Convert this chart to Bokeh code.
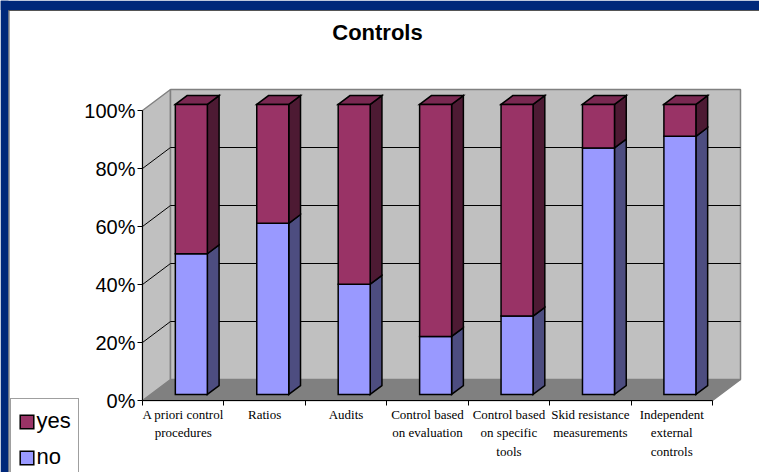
from bokeh.plotting import figure
from bokeh.models import (Range1d, FixedTicker, LinearAxis, Legend, LegendItem,
                          Label, BoxAnnotation, ColumnDataSource)
from bokeh.embed import file_html
from bokeh.resources import INLINE

# ---------------- data ----------------
categories = ["A priori control\nprocedures", "Ratios", "Audits",
              "Control based\non evaluation", "Control based\non specific\ntools",
              "Skid resistance\nmeasurements", "Independent\nexternal\ncontrols"]
no_pct = [48.5, 59, 38, 20, 27, 85, 89]
yes_pct = [51.5, 41, 62, 80, 73, 15, 11]
y_ticks = [0, 20, 40, 60, 80, 100]
title_text = "Controls"

# ---------------- layout constants (pixels) ----------------
W, H = 759, 472
X0_PX, Y0_PX = 142, 400                      # where (0, 0%) of the front plane sits
n = len(categories)
PX_PER_CAT = 570 / n
PX_PER_PCT = 290 / 100
DEPTH_X, DEPTH_Y = 28, 21                    # 3-D depth offset in px
ddx = DEPTH_X / PX_PER_CAT
ddy = DEPTH_Y / PX_PER_PCT
F_FRONT, F_DEPTH = 0.29, 0.42                # bar front position / bar depth (fraction of wall depth)
BAR_HALF = 16 / PX_PER_CAT

NO_FRONT, NO_SIDE = "#9999FF", "#4D4D80"
YES_FRONT, YES_SIDE, YES_TOP = "#993366", "#4D1A33", "#7A2952"
WALL, FLOOR, EDGE = "#C0C0C0", "#808080", "#808080"
NAVY = "#00287A"

p = figure(width=W, height=H,
           x_range=Range1d(-X0_PX / PX_PER_CAT, (W - X0_PX) / PX_PER_CAT),
           y_range=Range1d(-(H - Y0_PX) / PX_PER_PCT, Y0_PX / PX_PER_PCT),
           output_backend="svg", toolbar_location=None,
           x_axis_type=None, y_axis_type=None, min_border=0)
p.background_fill_color = "white"
p.border_fill_color = "white"
p.outline_line_color = None
p.xgrid.visible = False
p.ygrid.visible = False

# ---------------- walls ----------------
p.patch([0, ddx, n + ddx, n], [0, ddy, ddy, 0], fill_color=FLOOR, line_color=EDGE, line_width=1.5)
p.patch([0, ddx, ddx, 0], [0, ddy, 100 + ddy, 100], fill_color=WALL, line_color=EDGE, line_width=1.5)
p.quad(left=[ddx], right=[n + ddx], bottom=[ddy], top=[100 + ddy],
       fill_color=WALL, line_color=EDGE, line_width=1.5)
grid_vals = [t for t in y_ticks if 0 < t < 100]
p.segment(x0=[ddx] * len(grid_vals), x1=[n + ddx] * len(grid_vals),
          y0=[t + ddy for t in grid_vals], y1=[t + ddy for t in grid_vals],
          line_color="black", line_width=1)
p.segment(x0=[0] * len(grid_vals), x1=[ddx] * len(grid_vals),
          y0=grid_vals, y1=[t + ddy for t in grid_vals],
          line_color="black", line_width=1)

# ---------------- bars ----------------
fx, fy = F_FRONT * ddx, F_FRONT * ddy
bx, by = F_DEPTH * ddx, F_DEPTH * ddy
x0 = [i + 0.5 - BAR_HALF + fx for i in range(n)]
x1 = [i + 0.5 + BAR_HALF + fx for i in range(n)]
no_bot = [fy] * n
no_top = [fy + v for v in no_pct]
yes_bot = no_top
yes_top = [a + b for a, b in zip(no_top, yes_pct)]

def side(bot, top):
    xs = [[r, r + bx, r + bx, r] for r in x1]
    ys = [[b, b + by, t + by, t] for b, t in zip(bot, top)]
    return xs, ys

sx, sy = side(no_bot, no_top)
p.patches(sx, sy, fill_color=NO_SIDE, line_color="black", line_width=1.5, line_join="miter")
sx, sy = side(yes_bot, yes_top)
p.patches(sx, sy, fill_color=YES_SIDE, line_color="black", line_width=1.5, line_join="miter")
tx = [[l, l + bx, r + bx, r] for l, r in zip(x0, x1)]
ty = [[t, t + by, t + by, t] for t in yes_top]
p.patches(tx, ty, fill_color=YES_TOP, line_color="black", line_width=1.5, line_join="miter")

no_src = ColumnDataSource(dict(left=x0, right=x1, bottom=no_bot, top=no_top))
yes_src = ColumnDataSource(dict(left=x0, right=x1, bottom=yes_bot, top=yes_top))
no_r = p.quad(left="left", right="right", bottom="bottom", top="top", source=no_src,
              fill_color=NO_FRONT, line_color="black", line_width=1.5, line_join="miter")
yes_r = p.quad(left="left", right="right", bottom="bottom", top="top", source=yes_src,
               fill_color=YES_FRONT, line_color="black", line_width=1.5, line_join="miter")

# ---------------- axes ----------------
yaxis = LinearAxis(ticker=FixedTicker(ticks=y_ticks, minor_ticks=[]), bounds=(0, 100),
                   fixed_location=0,
                   major_label_overrides={t: f"{t}%" for t in y_ticks})
yaxis.major_label_text_font = "Liberation Sans"
yaxis.major_label_text_font_size = "20px"
yaxis.major_label_text_color = "black"
yaxis.major_tick_out = 5
yaxis.major_tick_in = 0
yaxis.minor_tick_out = 0
yaxis.minor_tick_in = 0
yaxis.major_label_standoff = 2
yaxis.axis_line_color = "black"
yaxis.major_tick_line_color = "black"
p.add_layout(yaxis, "left")

centers = [i + 0.5 for i in range(n)]
xaxis = LinearAxis(ticker=FixedTicker(ticks=centers, minor_ticks=list(range(n + 1))),
                   bounds=(0, n), fixed_location=0,
                   major_label_overrides={c: lab for c, lab in zip(centers, categories)})
xaxis.major_label_text_font = "Liberation Serif"
xaxis.major_label_text_font_size = "13px"
xaxis.major_label_text_line_height = 1.25
xaxis.major_label_text_color = "black"
xaxis.major_tick_out = 0
xaxis.major_tick_in = 0
xaxis.minor_tick_out = 5
xaxis.minor_tick_in = 0
xaxis.minor_tick_line_color = "black"
xaxis.major_label_standoff = 1
xaxis.axis_line_color = "black"
p.add_layout(xaxis, "below")

# ---------------- title ----------------
p.add_layout(Label(x=(377 - X0_PX) / PX_PER_CAT, y=(Y0_PX - 32) / PX_PER_PCT, text=title_text,
                   text_font="Liberation Sans", text_font_style="bold", text_color="black",
                   text_font_size="22px", text_align="center", text_baseline="middle"))

# ---------------- legend ----------------
legend = Legend(items=[LegendItem(label="yes", renderers=[yes_r]),
                       LegendItem(label="no", renderers=[no_r])],
                location=(9.5, -8))
legend.label_text_font = "Liberation Sans"
legend.label_text_font_size = "22px"
legend.label_text_color = "black"
legend.glyph_width = 17
legend.glyph_height = 17
legend.label_height = 30
legend.padding = 7
legend.spacing = 6
legend.label_standoff = 2
legend.margin = 0
legend.border_line_color = "#404040"
legend.border_line_width = 1
legend.background_fill_color = "white"
legend.background_fill_alpha = 1
p.add_layout(legend)

# ---------------- slide frame ----------------
def canvas_box(l, r, t, b, color):
    return BoxAnnotation(left=l, right=r, top=t, bottom=b,
                         left_units="canvas", right_units="canvas",
                         top_units="canvas", bottom_units="canvas",
                         fill_color=color, fill_alpha=1, line_color=None)

p.add_layout(canvas_box(0, W, 0, 9.5, NAVY))
p.add_layout(canvas_box(8, W, 9.5, 10.5, "#555555"))
p.add_layout(canvas_box(0, 8, 0, H, NAVY))
p.add_layout(canvas_box(8, 9, 9.5, H, "#555555"))

open("out.html", "w").write(file_html(p, INLINE))
